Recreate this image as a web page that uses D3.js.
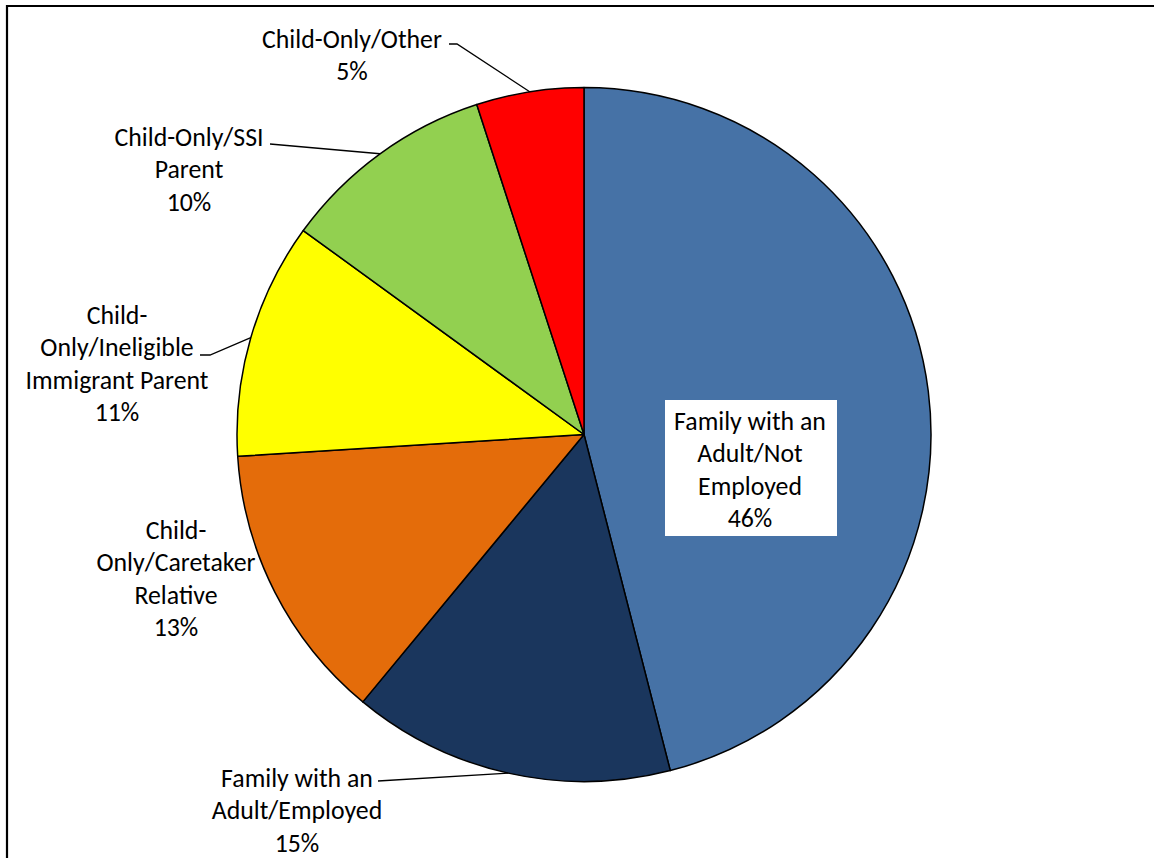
<!DOCTYPE html>
<html><head><meta charset="utf-8">
<script src="https://cdn.jsdelivr.net/npm/d3@7"></script>
<style>html,body{margin:0;padding:0;background:#fff;overflow:hidden}</style>
</head><body>
<svg id="c" width="1154" height="858"></svg>
<script>
// ---- data ----
const categories = [
  "Family with an Adult/Not Employed",
  "Family with an Adult/Employed",
  "Child-Only/Caretaker Relative",
  "Child-Only/Ineligible Immigrant Parent",
  "Child-Only/SSI Parent",
  "Child-Only/Other"
];
const values = [46, 15, 13, 11, 10, 5];
const labelLines = [
  ["Family with an", "Adult/Not", "Employed", "46%"],
  ["Family with an", "Adult/Employed", "15%"],
  ["Child-", "Only/Caretaker", "Relative", "13%"],
  ["Child-", "Only/Ineligible", "Immigrant Parent", "11%"],
  ["Child-Only/SSI", "Parent", "10%"],
  ["Child-Only/Other", "5%"]
];
const colors = ["#4672A6", "#1A365D", "#E46C0A", "#FFFF00", "#92D050", "#FF0000"];

// ---- layout (positions of the hand-placed labels) ----
const labelLayout = [
  {x: 750, y: 421, box: true},
  {x: 297, y: 778, leader: [[378, 781]]},
  {x: 176, y: 530},
  {x: 117, y: 315, leader: [[200, 355], [210, 355]]},
  {x: 189, y: 137, leader: [[270, 144]]},
  {x: 352, y: 39, leader: [[449, 44], [457, 44]]}
];

const svg = d3.select("#c");
const font = "'Carlito','Lato','Open Sans',sans-serif";
const fs = 25.8, lh = 32.3;

// frame
svg.append("path").attr("d", "M7,858 L7,6 L1154,6")
  .attr("fill", "none").attr("stroke", "#000").attr("stroke-width", 2.2);

const cx = 584, cy = 434.5, r = 347;
const g = svg.append("g").attr("transform", `translate(${cx},${cy})`);

const pie = d3.pie().sort(null).value(d => d)(values);
const arc = d3.arc().innerRadius(0).outerRadius(r);
const edge = d3.arc().innerRadius(r).outerRadius(r);

g.selectAll("path.s").data(pie).join("path").attr("class", "s")
  .attr("d", arc).attr("fill", (d, i) => colors[i])
  .attr("stroke", "#000").attr("stroke-width", 1.5).attr("stroke-linejoin", "round");

// leaders
pie.forEach((d, i) => {
  const L = labelLayout[i];
  if (!L.leader) return;
  const c = edge.centroid(d);
  const pts = L.leader.concat([[cx + c[0], cy + c[1]]]);
  svg.append("path").attr("d", d3.line()(pts))
    .attr("fill", "none").attr("stroke", "#000").attr("stroke-width", 1.3);
});

// labels
pie.forEach((d, i) => {
  const L = labelLayout[i];
  const lines = labelLines[i];
  const gl = svg.append("g");
  if (L.box) {
    gl.append("rect").attr("x", 665).attr("y", 400).attr("width", 172).attr("height", 136)
      .attr("fill", "#fff");
  }
  lines.forEach((t, k) => {
    gl.append("text").attr("x", L.x).attr("y", L.y + k * lh)
      .attr("text-anchor", "middle").attr("dominant-baseline", "central")
      .attr("font-family", font).attr("font-size", fs).attr("fill", "#000")
      .text(t);
  });
});
</script>
</body></html>
